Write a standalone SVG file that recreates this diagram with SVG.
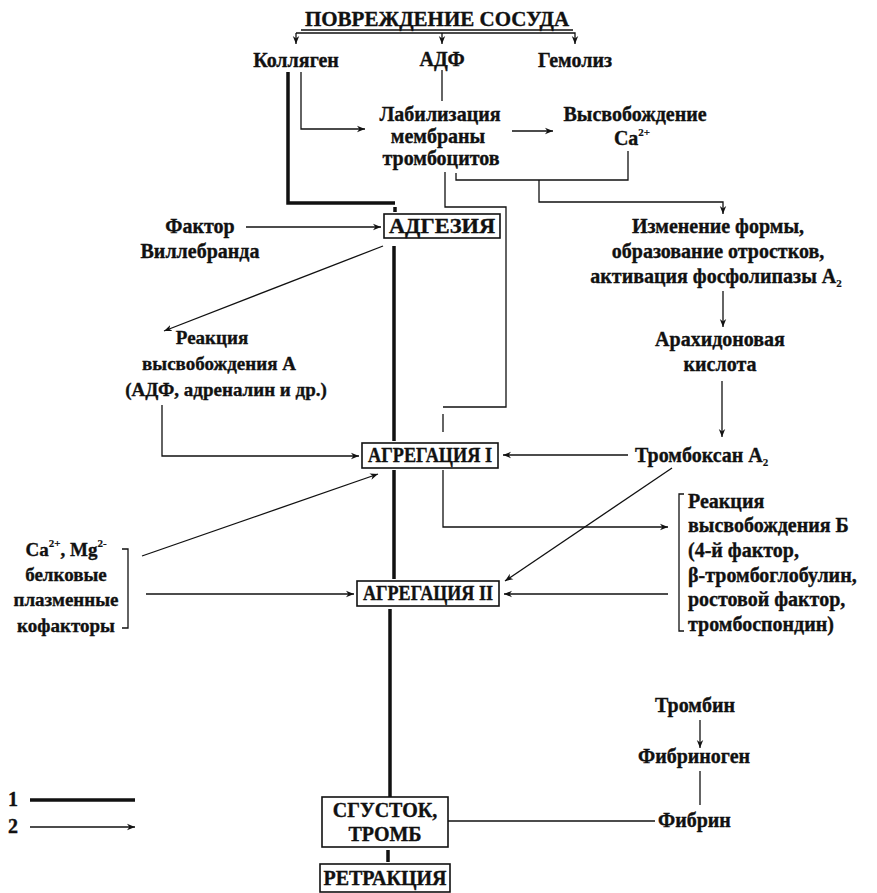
<svg xmlns="http://www.w3.org/2000/svg" width="877" height="893" viewBox="0 0 877 893">
<style>
text{font-family:"Liberation Serif","Times New Roman",serif;font-weight:bold;font-size:20px;fill:#111;stroke:#111;stroke-width:0.35}
.c{text-anchor:middle}
.s19{font-size:19px}
.box{fill:none;stroke:#111;stroke-width:1.6}
.thin{fill:none;stroke:#111;stroke-width:1.3}
.thick{fill:none;stroke:#111;stroke-width:3.5}
.arr{marker-end:url(#ah)}
.sup{font-size:11px;stroke-width:0.2}
</style>
<defs>
<marker id="ah" viewBox="0 0 10 10" refX="10" refY="5" markerWidth="8" markerHeight="8" markerUnits="userSpaceOnUse" orient="auto">
<path d="M0,1 L10,5 L0,9 L3,5 z" fill="#111"/>
</marker>
</defs>
<rect width="877" height="893" fill="#fff"/>

<g id="connectors">
<path class="thin" d="M301,30 H573"/>
<path class="thin arr" d="M296,33 H575 V44"/>
<path class="thin arr" d="M296,33 V44"/>
<path class="thin arr" d="M442,33 V44"/>
<path class="thick" d="M288,72 V203 H395"/>
<path class="thick" d="M395,207 V212"/>
<path class="thin arr" d="M301,72 V129 H365"/>
<path class="thin" d="M442,70 V101"/>
<path class="thin arr" d="M512,131 H553"/>
<path class="thin" d="M456,173 V180 H628 V151"/>
<path class="thin arr" d="M539,180 V202 H723 V214"/>
<path class="thin" d="M445,172 V207 H506 V407 H443"/>
<path class="thin" d="M443,414 V432"/>
<path class="thin arr" d="M246,227 H381"/>
<path class="thick" d="M394,246 V441"/>
<path class="thin arr" d="M383,246 L164,331"/>
<path class="thin arr" d="M723,291 V327"/>
<path class="thin arr" d="M722,381 V437"/>
<path class="thin arr" d="M628,455 H503"/>
<path class="thin arr" d="M162,405 V456 H359"/>
<path class="thin arr" d="M443,470 V527 H668"/>
<path class="thick" d="M394,470 V579"/>
<path class="thin arr" d="M672,468 L505,581"/>
<path class="thin arr" d="M668,594 H504"/>
<path class="thin" d="M684,494 H679 V631 H684"/>
<path class="thin" d="M122,549 H128 V628 H122"/>
<path class="thin arr" d="M142,556 L378,474"/>
<path class="thin arr" d="M146,594 H354"/>
<path class="thick" d="M390,609 V797"/>
<path class="thin" d="M448,821 H655"/>
<path class="thin arr" d="M700,720 V748"/>
<path class="thin" d="M700,771 V805"/>
<path class="thick" d="M388,850 V862"/>
<path class="thick" d="M30,800 H135"/>
<path class="thin arr" d="M30,827 H135"/>
</g>

<g id="title"><text class="c" x="437" y="26" style="font-size:21px">ПОВРЕЖДЕНИЕ СОСУДА</text></g>
<g id="kollagen"><text class="c" x="296" y="67">Колляген</text></g>
<g id="adf"><text class="c" x="442" y="66">АДФ</text></g>
<g id="gemoliz"><text class="c" x="575" y="67">Гемолиз</text></g>
<g id="labilizaciya">
<text class="c" x="440" y="121">Лабилизация</text>
<text class="c" x="438" y="143">мембраны</text>
<text class="c" x="441" y="165">тромбоцитов</text>
</g>
<g id="vysvobozhdenie-ca">
<text class="c" x="635" y="121">Высвобождение</text>
<text class="c" x="632" y="145">Ca<tspan class="sup" dy="-9">2+</tspan></text>
</g>
<g id="faktor">
<text class="c" x="200" y="233">Фактор</text>
<text class="c" x="200" y="258">Виллебранда</text>
</g>
<g id="adgeziya">
<rect class="box" x="384" y="214" width="116" height="24"/>
<text class="c" x="442" y="233" textLength="106" lengthAdjust="spacingAndGlyphs">АДГЕЗИЯ</text>
</g>
<g id="izmenenie">
<text class="c" x="718" y="233">Изменение формы,</text>
<text class="c" x="718" y="258">образование отростков,</text>
<text class="c" x="716" y="283">активация фосфолипазы A<tspan class="sup" dy="4">2</tspan></text>
</g>
<g id="arahidonovaya">
<text class="c" x="720" y="346">Арахидоновая</text>
<text class="c" x="720" y="371">кислота</text>
</g>
<g id="reakciya-a">
<text class="c s19" x="212" y="344">Реакция</text>
<text class="c s19" x="219" y="370">высвобождения А</text>
<text class="c s19" x="226" y="396">(АДФ, адреналин и др.)</text>
</g>
<g id="tromboksan"><text x="635" y="462">Тромбоксан A<tspan class="sup" dy="4">2</tspan></text></g>
<g id="agregaciya-1">
<rect class="box" x="362" y="443" width="136" height="25"/>
<text class="c" x="430" y="462" textLength="124" lengthAdjust="spacingAndGlyphs">АГРЕГАЦИЯ I</text>
</g>
<g id="reakciya-b">
<text x="688" y="508">Реакция</text>
<text x="688" y="532">высвобождения Б</text>
<text x="688" y="557">(4-й фактор,</text>
<text x="688" y="582">β-тромбоглобулин,</text>
<text x="688" y="606">ростовой фактор,</text>
<text x="688" y="631">тромбоспондин)</text>
</g>
<g id="kofaktory">
<text class="c s19" x="66" y="556">Ca<tspan class="sup" dy="-9">2+</tspan><tspan dy="9">, Mg</tspan><tspan class="sup" dy="-9">2-</tspan></text>
<text class="c s19" x="66" y="581">белковые</text>
<text class="c s19" x="66" y="606">плазменные</text>
<text class="c s19" x="66" y="632">кофакторы</text>
</g>
<g id="agregaciya-2">
<rect class="box" x="357" y="581" width="142" height="25"/>
<text class="c" x="428" y="600" textLength="130" lengthAdjust="spacingAndGlyphs">АГРЕГАЦИЯ II</text>
</g>
<g id="trombin"><text class="c" x="695" y="712">Тромбин</text></g>
<g id="fibrinogen"><text class="c" x="694" y="763">Фибриноген</text></g>
<g id="fibrin"><text x="658" y="827">Фибрин</text></g>
<g id="sgustok">
<rect class="box" x="322" y="797" width="126" height="50"/>
<text class="c" x="385" y="817">СГУСТОК,</text>
<text class="c" x="385" y="841">ТРОМБ</text>
</g>
<g id="retrakciya">
<rect class="box" x="320" y="864" width="130" height="28"/>
<text class="c" x="385" y="885">РЕТРАКЦИЯ</text>
</g>
<g id="legend">
<text x="8" y="806">1</text>
<text x="8" y="833">2</text>
</g>
</svg>
